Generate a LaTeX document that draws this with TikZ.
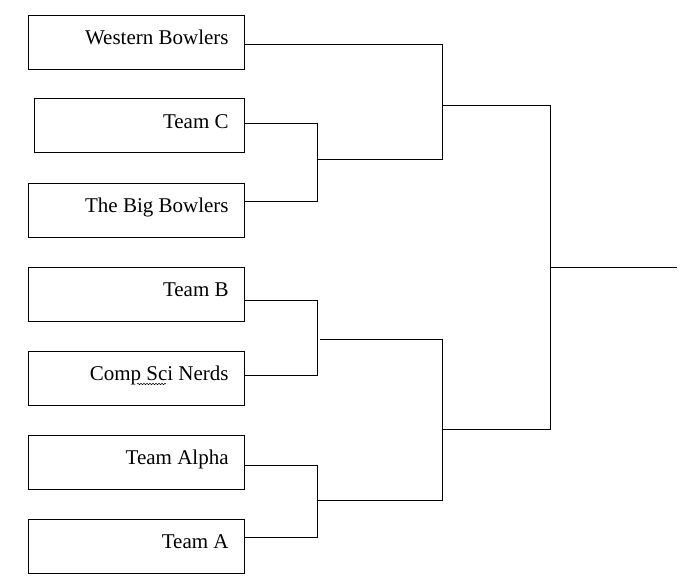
\documentclass[tikz,border=0pt]{standalone}
\usepackage{fontspec}
\setmainfont{Liberation Serif}
\usetikzlibrary{decorations.pathmorphing}

\begin{document}
\begin{tikzpicture}[x=1pt,y=-1pt]
    \tikzstyle{teambox}=[draw,rectangle,minimum width=216pt,minimum height=54pt,inner sep=0pt,anchor=north west]
    \tikzstyle{teamname}=[anchor=base east,inner sep=0pt,font=\fontsize{21}{24}\selectfont]
    \tikzstyle{every path}=[line width=0.8pt]
    \useasboundingbox (0,0) rectangle (695,584);
    % team boxes
    \node[teambox] (wb) at (28,15) {};
    \node[teambox,minimum width=210pt] (tc) at (34,98) {};
    \node[teambox] (bb) at (28,183) {};
    \node[teambox] (tb) at (28,267) {};
    \node[teambox] (cs) at (28,351) {};
    \node[teambox] (ta) at (28,435) {};
    \node[teambox] (tx) at (28,519) {};
    % names
    \node[teamname] at (229,44) {Western Bowlers};
    \node[teamname] at (229,128) {Team C};
    \node[teamname] at (229,212) {The Big Bowlers};
    \node[teamname] at (229,296) {Team B};
    \node[teamname] at (229,380) {Comp Sci Nerds};
    \node[teamname] at (229,464) {Team Alpha};
    \node[teamname] at (229,548) {Team A};
    \draw[line width=0.5pt,decorate,decoration={snake,amplitude=0.8pt,segment length=3pt}] (137,384) -- (166,384);
    % round 1
    \coordinate (r1a) at (317,123);
    \coordinate (r1b) at (317,201);
    \coordinate (r1c) at (317,300);
    \coordinate (r1d) at (317,375);
    \coordinate (r1e) at (317,465);
    \coordinate (r1f) at (317,537);
    \draw (tc.east |- r1a) -- (r1a) -- (r1b) -- (bb.east |- r1b);
    \draw (tb.east |- r1c) -- (r1c) -- (r1d) -- (cs.east |- r1d);
    \draw (ta.east |- r1e) -- (r1e) -- (r1f) -- (tx.east |- r1f);
    % round 2
    \coordinate (r2a) at (442,44);
    \coordinate (r2b) at (442,159);
    \coordinate (r2c) at (442,339);
    \coordinate (r2d) at (442,500);
    \draw (wb.east |- r2a) -- (r2a) -- (r2b) -- (317,159);
    \draw (320,339) -- (r2c) -- (r2d) -- (317,500);
    % final
    \coordinate (r3a) at (550,105);
    \coordinate (r3b) at (550,429);
    \coordinate (win) at (677,267);
    \draw (442,105) -- (r3a) -- (r3b) -- (442,429);
    \draw (550,267) -- (win);
\end{tikzpicture}
\end{document}
